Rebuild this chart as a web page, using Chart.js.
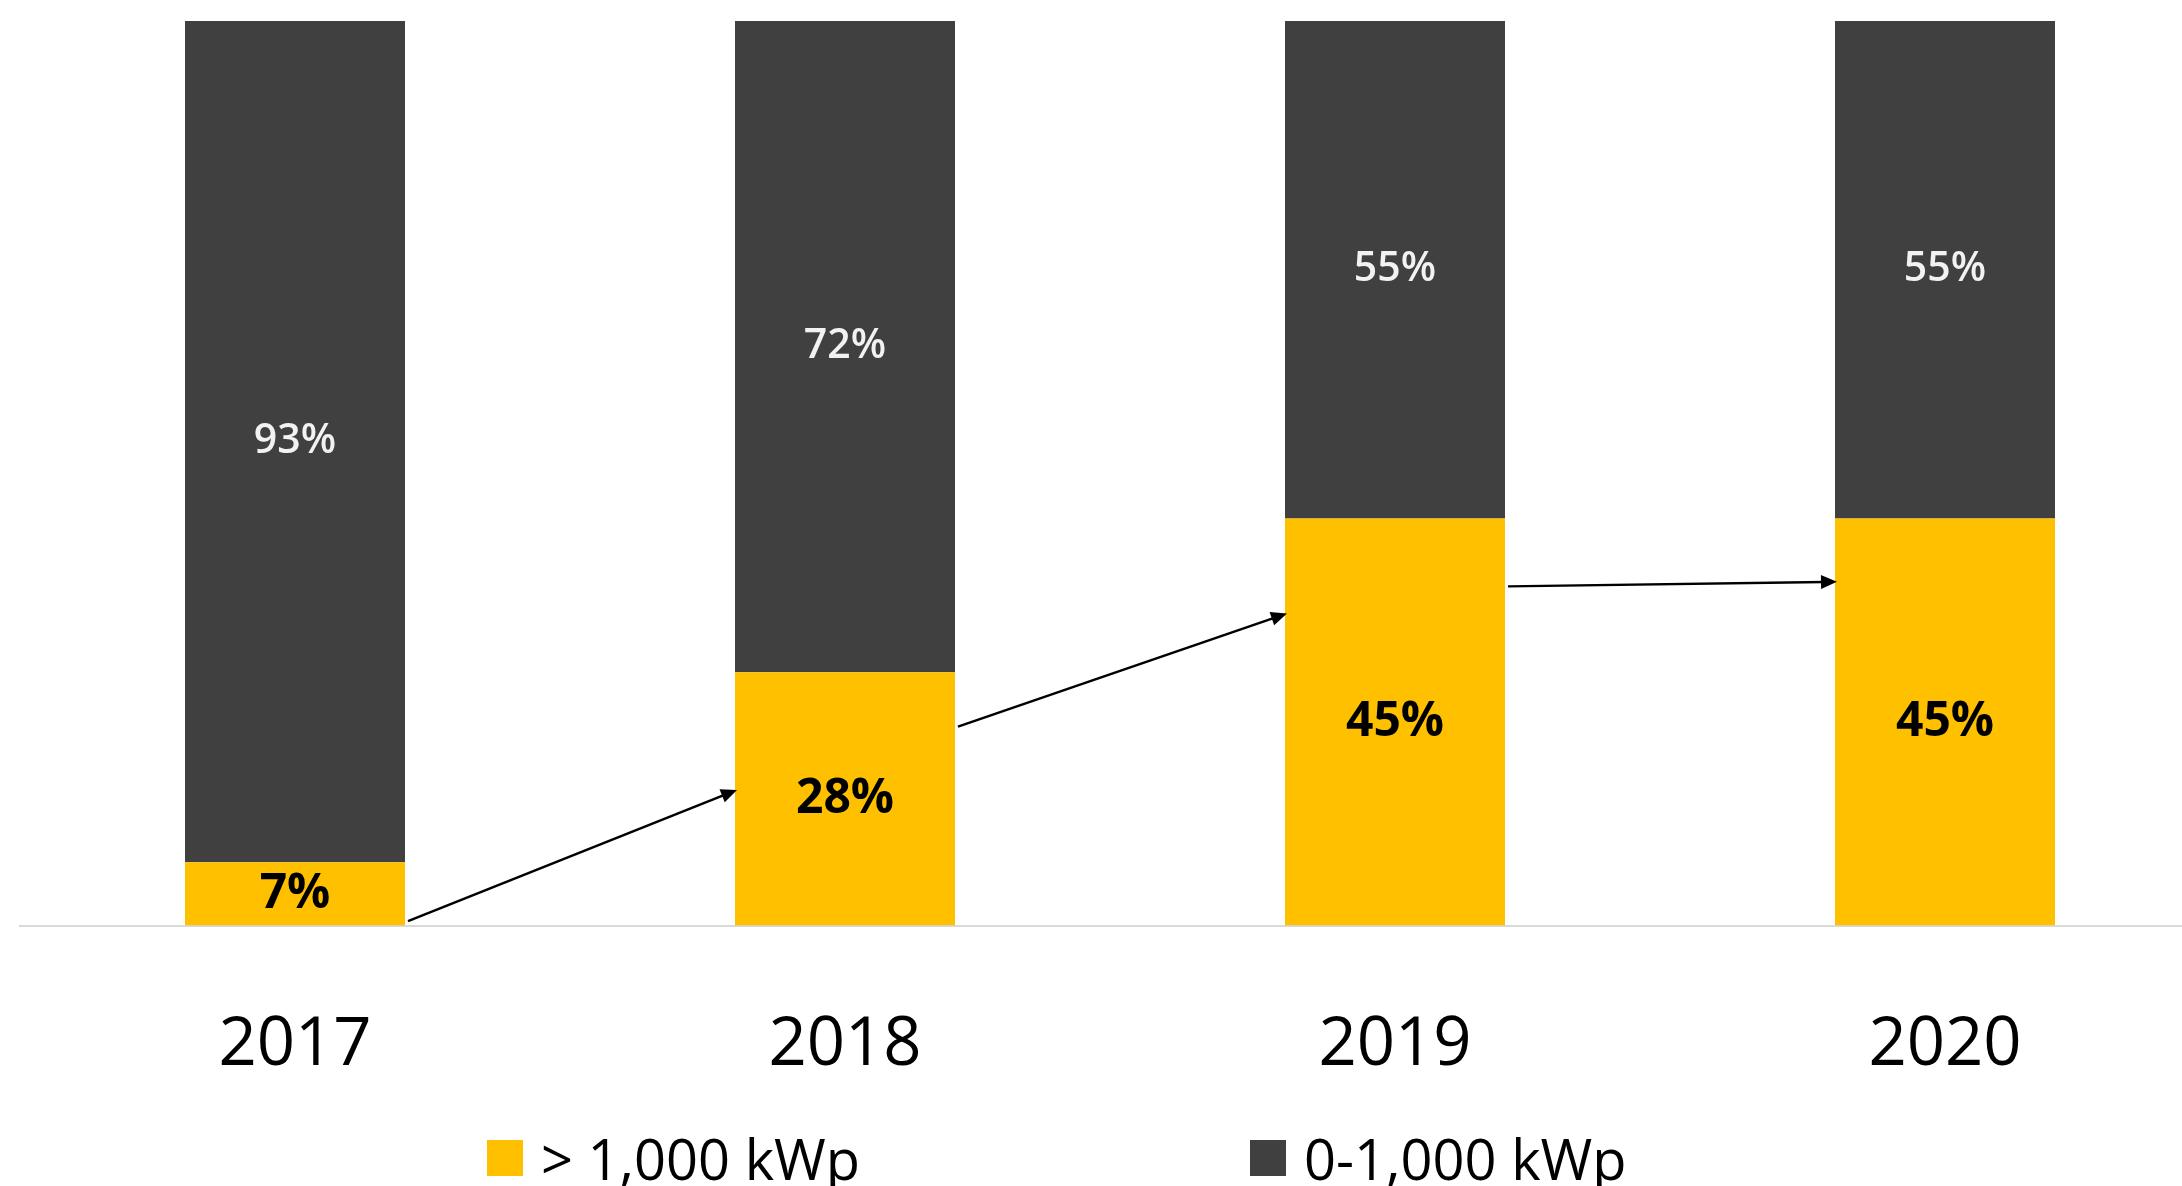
<!DOCTYPE html>
<html lang="en">
  <head>
    <meta charset="UTF-8" />
    <title>Share by system size</title>
    <script src="https://cdn.jsdelivr.net/npm/chart.js"></script>
    <style>
      body {
        margin: 0;
        width: 2182px;
        height: 1186px;
        overflow: hidden;
        background: #fff;
        font-family: "Open Sans", sans-serif;
        position: relative;
      }
      #chart {
        position: absolute;
        left: 0;
        top: 0;
      }
      #legend {
        position: absolute;
        left: 487px;
        top: 1130px;
        display: flex;
      }
      .legend-item {
        display: flex;
        align-items: center;
        width: 763px;
        font-size: 56px;
        line-height: 56px;
        color: #000;
        white-space: nowrap;
      }
      .legend-item:last-child {
        width: auto;
      }
      .legend-box {
        width: 36px;
        height: 36px;
        margin-right: 18px;
        flex: none;
      }
    </style>
  </head>
  <body>
    <canvas id="chart" width="2240" height="1186"></canvas>
    <div id="legend"></div>

    <script>
      const years = ["2017", "2018", "2019", "2020"];
      const largeShare = [7, 28, 45, 45]; // > 1,000 kWp
      const smallShare = [93, 72, 55, 55]; // 0-1,000 kWp
      const seriesNames = ["> 1,000 kWp", "0-1,000 kWp"];
      const seriesColors = ["#FFC000", "#404040"];
      const labelColors = ["#000000", "#f2f2f2"];

      // arrows between neighbouring bars, heights in % of the stack
      const arrowFrom = [0.5, 22, 37.5];
      const arrowTo = [15, 34.5, 38];

      const barLabels = {
        id: "barLabels",
        afterDatasetsDraw(chart) {
          const ctx = chart.ctx;
          ctx.save();
          ctx.textAlign = "center";
          ctx.textBaseline = "middle";
          chart.data.datasets.forEach((ds, di) => {
            const meta = chart.getDatasetMeta(di);
            ctx.fillStyle = labelColors[di];
            ctx.font =
              di === 0
                ? "700 48px 'Open Sans'"
                : "600 41px 'Open Sans'";
            meta.data.forEach((bar, i) => {
              const y = (bar.y + bar.base) / 2;
              ctx.fillText(ds.data[i] + "%", bar.x, y);
            });
          });
          ctx.restore();
        },
      };

      const arrows = {
        id: "arrows",
        afterDatasetsDraw(chart) {
          const ctx = chart.ctx;
          const yScale = chart.scales.y;
          const bars = chart.getDatasetMeta(0).data;
          ctx.save();
          ctx.strokeStyle = "#000";
          ctx.fillStyle = "#000";
          ctx.lineWidth = 2.5;
          for (let i = 0; i < arrowFrom.length; i++) {
            const x1 = bars[i].x + bars[i].width / 2 + 3;
            const y1 = yScale.getPixelForValue(arrowFrom[i]);
            const x2 = bars[i + 1].x - bars[i + 1].width / 2 + 2;
            const y2 = yScale.getPixelForValue(arrowTo[i]);
            const a = Math.atan2(y2 - y1, x2 - x1);
            const head = 16;
            ctx.beginPath();
            ctx.moveTo(x1, y1);
            ctx.lineTo(x2 - Math.cos(a) * head * 0.8, y2 - Math.sin(a) * head * 0.8);
            ctx.stroke();
            ctx.beginPath();
            ctx.moveTo(x2, y2);
            ctx.lineTo(
              x2 - head * Math.cos(a) + 7 * Math.sin(a),
              y2 - head * Math.sin(a) - 7 * Math.cos(a)
            );
            ctx.lineTo(
              x2 - head * Math.cos(a) - 7 * Math.sin(a),
              y2 - head * Math.sin(a) + 7 * Math.cos(a)
            );
            ctx.closePath();
            ctx.fill();
          }
          ctx.restore();
        },
      };

      const chart = new Chart(document.getElementById("chart"), {
        type: "bar",
        data: {
          labels: years,
          datasets: [
            {
              label: seriesNames[0],
              data: largeShare,
              backgroundColor: seriesColors[0],
            },
            {
              label: seriesNames[1],
              data: smallShare,
              backgroundColor: seriesColors[1],
            },
          ],
        },
        options: {
          responsive: false,
          animation: false,
          barPercentage: 0.4,
          categoryPercentage: 1.0,
          layout: { padding: { left: 20, right: 20, top: 21, bottom: 20 } },
          plugins: {
            legend: { display: false },
            tooltip: { enabled: false },
          },
          scales: {
            x: {
              stacked: true,
              grid: { display: false, drawTicks: false },
              border: { display: true, color: "#d9d9d9", width: 2 },
              ticks: {
                color: "#000",
                padding: 80,
                font: { family: "Open Sans", size: 67 },
              },
            },
            y: {
              stacked: true,
              display: false,
              min: 0,
              max: 100,
            },
          },
        },
        plugins: [barLabels, arrows],
      });

      // html legend
      const legend = document.getElementById("legend");
      chart.data.datasets.forEach((ds) => {
        const item = document.createElement("div");
        item.className = "legend-item";
        const box = document.createElement("span");
        box.className = "legend-box";
        box.style.background = ds.backgroundColor;
        item.appendChild(box);
        item.appendChild(document.createTextNode(ds.label));
        legend.appendChild(item);
      });
    </script>
  </body>
</html>
